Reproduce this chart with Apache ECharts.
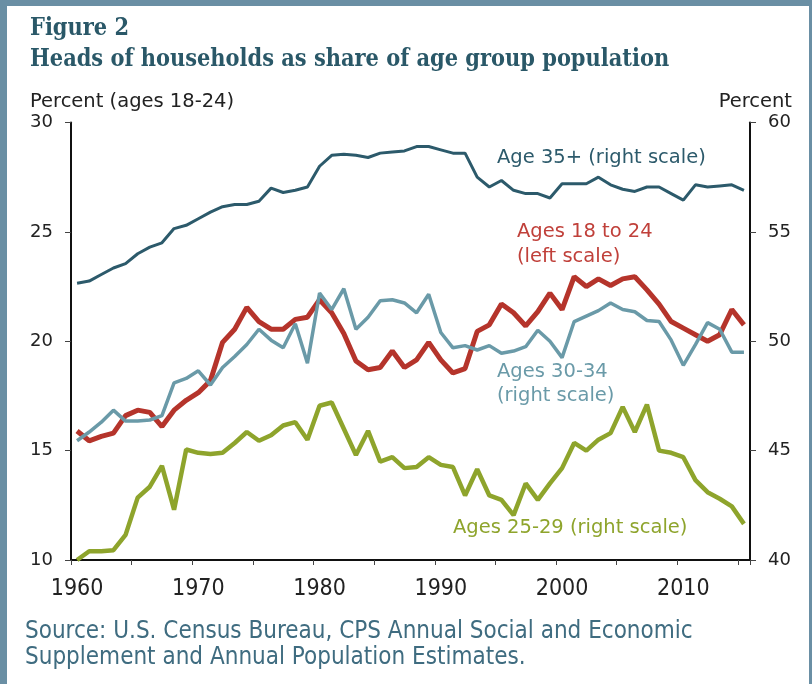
<!DOCTYPE html>
<html>
<head>
<meta charset="utf-8">
<title>Heads of households as share of age group population</title>
<script src="https://cdn.jsdelivr.net/npm/echarts@6/dist/echarts.min.js"></script>
<style>
html, body { margin: 0; padding: 0; background: #fff; }
#chart { position: absolute; left: 0; top: 0; width: 812px; height: 684px; }
#frame {
  position: absolute; left: 0; top: 0; width: 812px; height: 684px;
  box-sizing: border-box; pointer-events: none;
  border-left: 7px solid #6a8fa4; border-top: 6px solid #6a8fa4; border-right: 3px solid #6a8fa4;
}
</style>
</head>
<body>
<div id="chart"></div>
<div id="frame"></div>
<script>
// years 1960 - 2015
const years = [];
for (let y = 1960; y <= 2015; y++) years.push(String(y));

// Ages 18 to 24 (left scale)
const ages18to24 = [
  15.9, 15.45, 15.65, 15.8, 16.6, 16.85, 16.75, 16.1, 16.85, 17.3,
  17.65, 18.2, 19.95, 20.55, 21.55, 20.9, 20.55, 20.55, 21.0, 21.1,
  21.9, 21.3, 20.35, 19.1, 18.7, 18.8, 19.55, 18.8, 19.15, 19.95,
  19.15, 18.55, 18.75, 20.45, 20.75, 21.7, 21.3, 20.7, 21.35, 22.2,
  21.45, 22.95, 22.5, 22.85, 22.55, 22.85, 22.95, 22.35, 21.7, 20.9,
  20.6, 20.3, 20.0, 20.3, 21.45, 20.75
];

// Ages 25-29 (right scale)
const ages25to29 = [
  40.0, 40.4, 40.4, 40.45, 41.15, 42.85, 43.35, 44.3, 42.3, 45.05,
  44.9, 44.85, 44.9, 45.35, 45.85, 45.45, 45.7, 46.15, 46.3, 45.5,
  47.05, 47.2, 46.0, 44.8, 45.9, 44.5, 44.7, 44.2, 44.25, 44.7,
  44.35, 44.25, 42.95, 44.15, 42.95, 42.75, 42.05, 43.5, 42.75, 43.5,
  44.2, 45.35, 45.0, 45.5, 45.8, 47.0, 45.85, 47.1, 45.0, 44.9,
  44.7, 43.65, 43.1, 42.8, 42.45, 41.65
];

// Ages 30-34 (right scale)
const ages30to34 = [
  45.45, 45.85, 46.3, 46.85, 46.35, 46.35, 46.4, 46.6, 48.1, 48.3,
  48.65, 48.0, 48.8, 49.3, 49.85, 50.55, 50.05, 49.7, 50.8, 49.0,
  52.2, 51.45, 52.4, 50.55, 51.1, 51.85, 51.9, 51.75, 51.3, 52.15,
  50.4, 49.7, 49.8, 49.6, 49.8, 49.45, 49.55, 49.75, 50.5, 50.0,
  49.25, 50.9, 51.15, 51.4, 51.75, 51.45, 51.35, 50.95, 50.9, 50.05,
  48.9, 49.85, 50.85, 50.55, 49.5, 49.5
];

// Age 35+ (right scale)
const age35plus = [
  52.65, 52.75, 53.05, 53.35, 53.55, 54.0, 54.3, 54.5, 55.15, 55.3,
  55.6, 55.9, 56.15, 56.25, 56.25, 56.4, 57.0, 56.8, 56.9, 57.05,
  58.0, 58.5, 58.55, 58.5, 58.4, 58.6, 58.65, 58.7, 58.9, 58.9,
  58.75, 58.6, 58.6, 57.5, 57.05, 57.35, 56.9, 56.75, 56.75, 56.55,
  57.2, 57.2, 57.2, 57.5, 57.15, 56.95, 56.85, 57.05, 57.05, 56.75,
  56.45, 57.15, 57.05, 57.1, 57.15, 56.9
];

const leftTicks = [10, 30, 5];
const rightTicks = [40, 60, 5];

const BLACK = '#111';
const TEAL_DARK = '#2c5a6b';
const TEAL_LIGHT = '#6a9aa8';
const RED = '#b5342b';
const OLIVE = '#8ea42c';
const LABEL_FONT = '"DejaVu Sans", Verdana, sans-serif';
const NARROW_FONT = '"Liberation Sans Narrow", "DejaVu Sans Condensed", sans-serif';
const NOTE = '19.5px ' + LABEL_FONT;
const TITLE_FONT = 'bold 23.3px "DejaVu Serif Condensed", "DejaVu Serif", serif';

const chart = echarts.init(document.getElementById('chart'));

function yAxis (range, pos) {
  return {
    type: 'value',
    position: pos,
    min: range[0],
    max: range[1],
    interval: range[2],
    splitLine: { show: false },
    axisLine: { show: true, lineStyle: { color: BLACK, width: 2 } },
    axisTick: { show: true, inside: false, length: 6, lineStyle: { color: '#444', width: 1 } },
    axisLabel: { color: '#222', fontSize: 18, fontFamily: LABEL_FONT, margin: 18 }
  };
}

chart.setOption({
  animation: false,
  backgroundColor: '#fff',
  grid: { left: 71, right: 62, top: 122.5, bottom: 124 },
  xAxis: {
    type: 'category',
    data: years,
    boundaryGap: true,
    axisLine: { show: true, lineStyle: { color: BLACK, width: 2 } },
    axisTick: { show: true, interval: 4, length: 5, lineStyle: { color: '#444', width: 1 } },
    axisLabel: { interval: 9, color: '#222', fontSize: 23, margin: 18, fontFamily: NARROW_FONT }
  },
  yAxis: [yAxis(leftTicks, 'left'), yAxis(rightTicks, 'right')],
  series: [
    { name: 'Ages 25-29', type: 'line', yAxisIndex: 1, data: ages25to29, symbol: 'none',
      lineStyle: { color: OLIVE, width: 4.5 } },
    { name: 'Ages 18 to 24', type: 'line', yAxisIndex: 0, data: ages18to24, symbol: 'none',
      lineStyle: { color: RED, width: 5 } },
    { name: 'Ages 30-34', type: 'line', yAxisIndex: 1, data: ages30to34, symbol: 'none',
      lineStyle: { color: TEAL_LIGHT, width: 3.5 } },
    { name: 'Age 35+', type: 'line', yAxisIndex: 1, data: age35plus, symbol: 'none',
      lineStyle: { color: TEAL_DARK, width: 3 } }
  ],
  graphic: [
    { type: 'text', left: 30, top: 17,
      style: { text: 'Figure 2', fill: '#2a5868', font: TITLE_FONT } },
    { type: 'text', left: 30, top: 48,
      style: { text: 'Heads of households as share of age group population', fill: '#2a5868',
        font: TITLE_FONT } },
    { type: 'text', left: 30, top: 92,
      style: { text: 'Percent (ages 18-24)', fill: '#222', font: NOTE } },
    { type: 'text', right: 20, top: 92,
      style: { text: 'Percent', fill: '#222', font: NOTE } },
    { type: 'text', left: 497, top: 148,
      style: { text: 'Age 35+ (right scale)', fill: TEAL_DARK, font: NOTE } },
    { type: 'text', left: 517, top: 219,
      style: { text: 'Ages 18 to 24\n(left scale)', fill: '#c0403a', align: 'center',
        lineHeight: 25, font: NOTE } },
    { type: 'text', left: 497, top: 360,
      style: { text: 'Ages 30-34\n(right scale)', fill: TEAL_LIGHT, lineHeight: 24, font: NOTE } },
    { type: 'text', left: 453, top: 518,
      style: { text: 'Ages 25-29 (right scale)', fill: OLIVE, font: NOTE } },
    { type: 'text', left: 25, top: 619,
      style: { text: 'Source: U.S. Census Bureau, CPS Annual Social and Economic\nSupplement and Annual Population Estimates.',
        fill: '#3f6c80', lineHeight: 26, font: '24px ' + NARROW_FONT } }
  ]
});
</script>
</body>
</html>
